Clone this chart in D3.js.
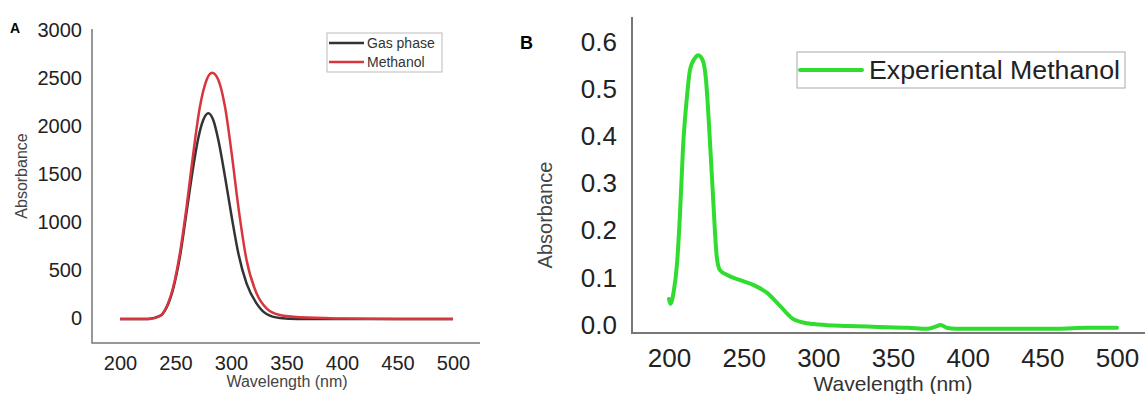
<!DOCTYPE html>
<meta charset="utf-8">
<head>
<style>
  body { margin: 0; background: #fff; }
  text { font-family: "Liberation Sans", Arial, sans-serif; }
</style>
</head>
<body>
  <script src="https://d3js.org/d3.v7.min.js"></script>
  <script>
    // panel A: computed spectra
    var gasNm  = [200, 225, 236, 242, 248, 254, 260, 266, 270.5, 275, 279.6, 284, 288.6, 294.6, 300.6, 306.6, 314, 323, 332, 344, 360, 400, 450, 500];
    var gasAbs = [-10, -10, 21, 111, 309, 639, 1107, 1576, 1872, 2062, 2132, 2062, 1854, 1472, 1055, 674, 361, 153, 42, 0, -10, -10, -10, -10];
    var metNm  = [200, 227, 236, 242, 248, 254, 260, 266, 272, 278, 283, 288.6, 294.6, 300.6, 306.6, 314, 323, 332, 344, 362, 400, 450, 500];
    var metAbs = [-10, -10, 21, 118, 326, 677, 1160, 1715, 2200, 2480, 2555, 2480, 2200, 1715, 1160, 604, 257, 100, 31, 7, -5, -10, -10];

    // panel B: experimental spectrum
    var expNm  = [200, 201, 203, 205.4, 207.4, 209.4, 212, 214, 217.4, 219.5, 222.6, 224.8, 227, 229.5, 232, 234, 239, 247.7, 256.4, 265.7, 274.5, 283, 292, 300, 320, 340, 360, 373, 378, 382, 386, 392, 420, 460, 480, 500];
    var expAbs = [0.055, 0.045, 0.068, 0.131, 0.237, 0.377, 0.483, 0.54, 0.566, 0.572, 0.561, 0.519, 0.413, 0.271, 0.144, 0.117, 0.106, 0.095, 0.085, 0.068, 0.040, 0.013, 0.004, 0.001, -0.002, -0.004, -0.006, -0.008, -0.004, 0.0, -0.006, -0.008, -0.008, -0.008, -0.006, -0.006];

    var xTicks = [200, 250, 300, 350, 400, 450, 500];
    var yTicksA = [0, 500, 1000, 1500, 2000, 2500, 3000];
    var yTicksB = [0, 0.1, 0.2, 0.3, 0.4, 0.5, 0.6];

    var svg = d3.select("body").append("svg")
      .attr("width", 1145)
      .attr("height", 394);

    function zip(xs, ys) { return xs.map(function (d, i) { return [d, ys[i]]; }); }

    // ---------- panel A ----------
    var xA = d3.scaleLinear().domain([200, 500]).range([120, 453]);
    var yA = d3.scaleLinear().domain([0, 3000]).range([318, 30]);
    var lineA = d3.line().x(function (d) { return xA(d[0]); }).y(function (d) { return yA(d[1]); }).curve(d3.curveMonotoneX);

    var gA = svg.append("g");

    gA.append("g")
      .attr("transform", "translate(92,0)")
      .call(d3.axisLeft(yA).tickValues(yTicksA).tickFormat(d3.format("d")).tickSize(0).tickPadding(10))
      .call(function (g) { g.select(".domain").remove(); })
      .selectAll("text").style("font-size", "20px").attr("fill", "#222");

    gA.append("g")
      .attr("transform", "translate(0,343)")
      .call(d3.axisBottom(xA).tickValues(xTicks).tickSize(0).tickPadding(13))
      .call(function (g) { g.select(".domain").remove(); })
      .selectAll("text").style("font-size", "20px").attr("fill", "#222");

    gA.append("path").attr("d", "M92,29V343H480")
      .attr("fill", "none").attr("stroke", "#777").attr("stroke-width", 1.5);

    gA.append("path").datum(zip(gasNm, gasAbs)).attr("d", lineA)
      .attr("fill", "none").attr("stroke", "#333").attr("stroke-width", 2.5);
    gA.append("path").datum(zip(metNm, metAbs)).attr("d", lineA)
      .attr("fill", "none").attr("stroke", "#d8353d").attr("stroke-width", 2.5);

    gA.append("text").attr("x", 10).attr("y", 33).text("A")
      .style("font-size", "14px").style("font-weight", "bold");
    gA.append("text").attr("transform", "translate(27,176) rotate(-90)")
      .attr("text-anchor", "middle").attr("fill", "#444").style("font-size", "16px").text("Absorbance");
    gA.append("text").attr("x", 287).attr("y", 387)
      .attr("text-anchor", "middle").attr("fill", "#444").style("font-size", "16px").text("Wavelength (nm)");

    // legend A
    var legA = gA.append("g");
    legA.append("rect").attr("x", 327).attr("y", 33).attr("width", 115).attr("height", 39)
      .attr("fill", "#fff").attr("stroke", "#bbb");
    [["Gas phase", "#333", 43], ["Methanol", "#d8353d", 62]].forEach(function (d) {
      legA.append("line").attr("x1", 329).attr("x2", 364).attr("y1", d[2]).attr("y2", d[2])
        .attr("stroke", d[1]).attr("stroke-width", 2.5);
      legA.append("text").attr("x", 367).attr("y", d[2] + 5).style("font-size", "14px")
        .attr("fill", "#333").text(d[0]);
    });

    // ---------- panel B ----------
    var xB = d3.scaleLinear().domain([200, 500]).range([669, 1117]);
    var yB = d3.scaleLinear().domain([0, 0.6]).range([325, 42]);
    var lineB = d3.line().x(function (d) { return xB(d[0]); }).y(function (d) { return yB(d[1]); }).curve(d3.curveMonotoneX);

    var gB = svg.append("g");

    gB.append("g")
      .attr("transform", "translate(632,0)")
      .call(d3.axisLeft(yB).tickValues(yTicksB).tickFormat(d3.format(".1f")).tickSize(0).tickPadding(15))
      .call(function (g) { g.select(".domain").remove(); })
      .selectAll("text").style("font-size", "26px").attr("fill", "#222");

    gB.append("g")
      .attr("transform", "translate(0,333)")
      .call(d3.axisBottom(xB).tickValues(xTicks).tickSize(0).tickPadding(16))
      .call(function (g) { g.select(".domain").remove(); })
      .selectAll("text").style("font-size", "26px").attr("fill", "#222");

    gB.append("path").attr("d", "M632,17V333H1145")
      .attr("fill", "none").attr("stroke", "#777").attr("stroke-width", 2);

    gB.append("path").datum(zip(expNm, expAbs)).attr("d", lineB)
      .attr("fill", "none").attr("stroke", "#2fdc2f").attr("stroke-width", 4)
      .attr("stroke-linejoin", "round").attr("stroke-linecap", "round");

    gB.append("text").attr("x", 520).attr("y", 49).text("B")
      .style("font-size", "18px").style("font-weight", "bold");
    gB.append("text").attr("transform", "translate(552,215) rotate(-90)")
      .attr("text-anchor", "middle").attr("fill", "#444").style("font-size", "20px").text("Absorbance");
    gB.append("text").attr("x", 893).attr("y", 391)
      .attr("text-anchor", "middle").attr("fill", "#333").style("font-size", "21px").text("Wavelength (nm)");

    // legend B
    var legB = gB.append("g");
    legB.append("rect").attr("x", 797).attr("y", 52).attr("width", 328).attr("height", 36)
      .attr("fill", "#fff").attr("stroke", "#aaa");
    legB.append("line").attr("x1", 800).attr("x2", 862).attr("y1", 70).attr("y2", 70)
      .attr("stroke", "#2fdc2f").attr("stroke-width", 4).attr("stroke-linecap", "round");
    legB.append("text").attr("x", 869).attr("y", 79).style("font-size", "26px")
      .attr("textLength", 251).attr("lengthAdjust", "spacingAndGlyphs")
      .attr("fill", "#222").text("Experiental Methanol");
  </script>
</body>
</html>
